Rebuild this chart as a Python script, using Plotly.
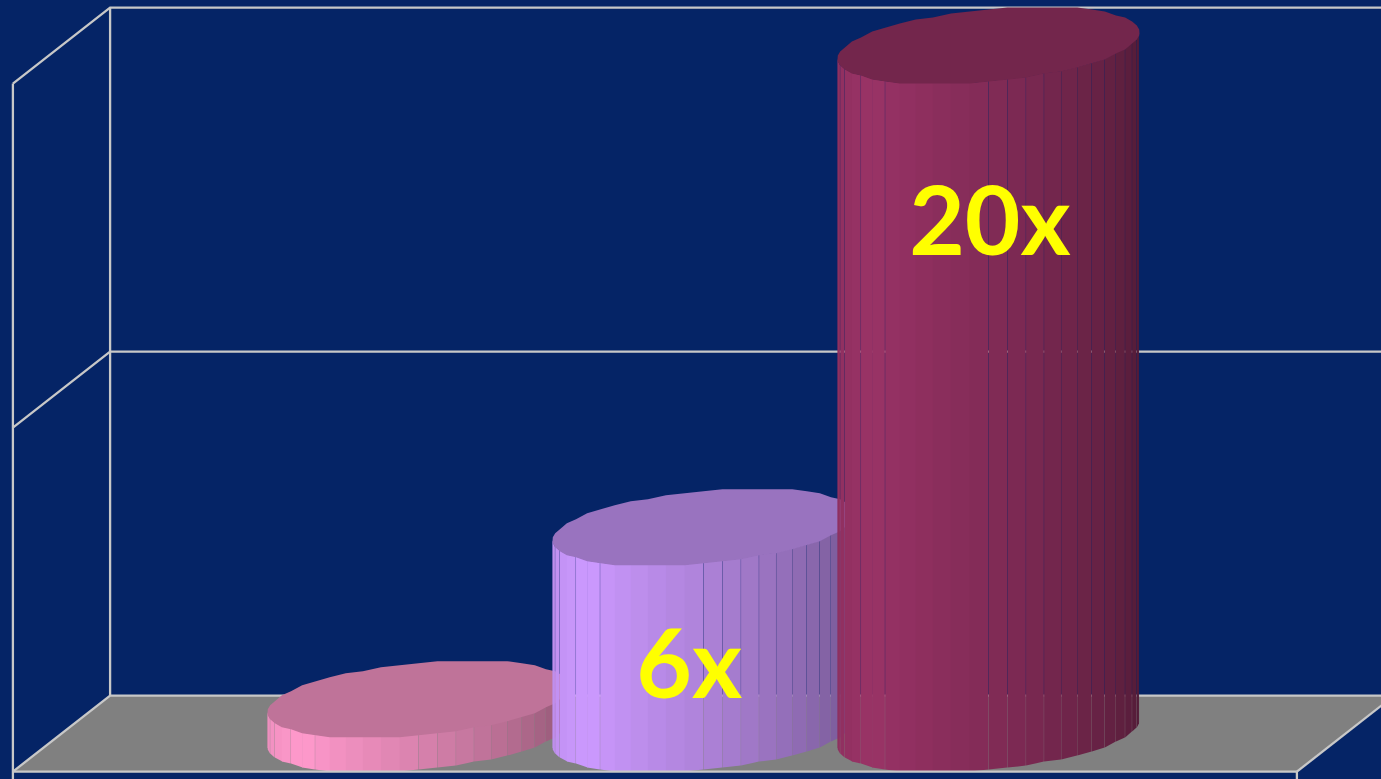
import numpy as np
import plotly.graph_objects as go

# Chart data
SERIES = ["A", "B", "C"]
VALUES = [1, 6, 20]
COLORS = ["#FF99CC", "#CC99FF", "#993366"]
VALUE_TICKS = [0, 10, 20]

# Label anchors, in axis units (series position, value)
LABEL_X = [0.95, 2.005]
LABEL_V = [1.72, 14.62]
LABELLED = [1, 2]

# Facet light level against the angle round the front of the cylinder
LIGHT_ANGLE = [0, 45, 90, 140, 180]
LIGHT_LEVEL = [0.52, 0.68, 0.85, 1.0, 0.92]

# Facet edges left without a visible seam, by index from the left
PLAIN_EDGES = [0, 3, 5, 7, 8, 9, 10, 11]

# Plot scales
PX_PER_POS = 285.0
PX_PER_VALUE = 34.4
WIDTH, HEIGHT = 1381, 779
CENTER_PX, BASE_PX = 703.5, 733.6

x_range = [1 - CENTER_PX / PX_PER_POS, 1 + (WIDTH - CENTER_PX) / PX_PER_POS]
y_range = [(BASE_PX - HEIGHT) / PX_PER_VALUE, BASE_PX / PX_PER_VALUE]

# Oblique box
FLOOR_HALF = 642.0 / PX_PER_POS
DEPTH_X = 48.6 / PX_PER_POS
DEPTH_Y = 38.0 / PX_PER_VALUE

# Cylinder cross-section
RADIUS = 151.0 / PX_PER_POS
CAP_TILT = 13.0 / PX_PER_VALUE
CAP_DEPTH = 36.3 / PX_PER_VALUE
CAP_STEP = 2.0 / PX_PER_VALUE
FACET_DEG = 7.2

NAVY = "#052466"
GRID = "#C8C8C8"
FLOOR = "#808080"
SEAM_GAP = 0.25 / PX_PER_POS
EDGE_LAP = 0.5 / PX_PER_POS
TOP_LAP = 0.7 / PX_PER_VALUE

fig = go.Figure()


def poly(xs, ys, color, name):
    fig.add_trace(go.Scatter(x=xs, y=ys, mode="lines", fill="toself", fillcolor=color,
                             line=dict(width=0), name=name, hoverinfo="skip", showlegend=False))


def wire(xs, ys):
    fig.add_trace(go.Scatter(x=xs, y=ys, mode="lines", line=dict(color=GRID, width=2.3),
                             hoverinfo="skip", showlegend=False))


def shade(hex_color, level):
    rgb = [int(hex_color[i:i + 2], 16) for i in (1, 3, 5)]
    return "rgb({},{},{})".format(*[int(round(c * level)) for c in rgb])


def ring(center, value, deg):
    a = np.radians(deg)
    dy = CAP_TILT * np.cos(a) - CAP_DEPTH * np.sin(a)
    dy = np.round(dy / CAP_STEP) * CAP_STEP
    return center + RADIUS * np.cos(a), value + dy


left, right = 1 - FLOOR_HALF, 1 + FLOOR_HALF
lo, hi = VALUE_TICKS[0], VALUE_TICKS[-1]

# Floor
poly([left - DEPTH_X, right - DEPTH_X, right + DEPTH_X, left + DEPTH_X, left - DEPTH_X],
     [lo - DEPTH_Y, lo - DEPTH_Y, lo + DEPTH_Y, lo + DEPTH_Y, lo - DEPTH_Y], FLOOR, "floor")

# Wall gridlines and box edges
for t in VALUE_TICKS:
    wire([left - DEPTH_X, left + DEPTH_X, x_range[1] + 1],
         [t - DEPTH_Y, t + DEPTH_Y, t + DEPTH_Y])
wire([left + DEPTH_X, left + DEPTH_X], [lo + DEPTH_Y, hi + DEPTH_Y])
wire([left - DEPTH_X, left - DEPTH_X], [y_range[0], hi - DEPTH_Y])
wire([right - DEPTH_X, right + DEPTH_X], [lo - DEPTH_Y, lo + DEPTH_Y])
wire([right - DEPTH_X, right - DEPTH_X], [y_range[0], lo - DEPTH_Y])

# Cylinders, drawn back to front along the row
steps = int(round(180 / FACET_DEG))
edges = [180.0] + [180 - k * FACET_DEG - 3.6 for k in range(steps)] + [0.0]
for idx, (name, value, color) in enumerate(zip(SERIES, VALUES, COLORS)):
    for k, (a0, a1) in enumerate(zip(edges[:-1], edges[1:])):
        x0, t0 = ring(idx, value, a0)
        x1, t1 = ring(idx, value, a1)
        _, b0 = ring(idx, 0, a0)
        _, b1 = ring(idx, 0, a1)
        x1 = x1 + EDGE_LAP if k in PLAIN_EDGES else x1 - SEAM_GAP
        level = float(np.interp((a0 + a1) / 2, LIGHT_ANGLE, LIGHT_LEVEL))
        poly([x0, x1, x1, x0, x0], [t0 + TOP_LAP, t1 + TOP_LAP, b1, b0, t0 + TOP_LAP],
             shade(color, level), name)
    rim = edges + [360 - e for e in edges[-2:0:-1]]
    cap = [ring(idx, value, d) for d in rim]
    cx = [p[0] for p in cap]
    cy = [p[1] for p in cap]
    poly(cx + cx[:1], cy + cy[:1], shade(color, 0.75), name)

# The front floor edge stays visible along the cylinder bases
wire([left - DEPTH_X, right - DEPTH_X], [lo - DEPTH_Y, lo - DEPTH_Y])

# Value labels
fig.add_trace(go.Scatter(
    x=LABEL_X, y=LABEL_V, mode="text",
    text=[f"{VALUES[i]}x" for i in LABELLED],
    textposition="middle center",
    textfont=dict(family="Lato", size=96, color="#FFFF00", weight="bold"),
    hoverinfo="skip", showlegend=False))

fig.update_layout(
    width=WIDTH, height=HEIGHT,
    margin=dict(l=0, r=0, t=0, b=0),
    paper_bgcolor=NAVY, plot_bgcolor=NAVY,
    xaxis=dict(range=x_range, visible=False),
    yaxis=dict(range=y_range, visible=False),
    showlegend=False,
)
fig.write_html("out.html", config=dict(displayModeBar=False))
